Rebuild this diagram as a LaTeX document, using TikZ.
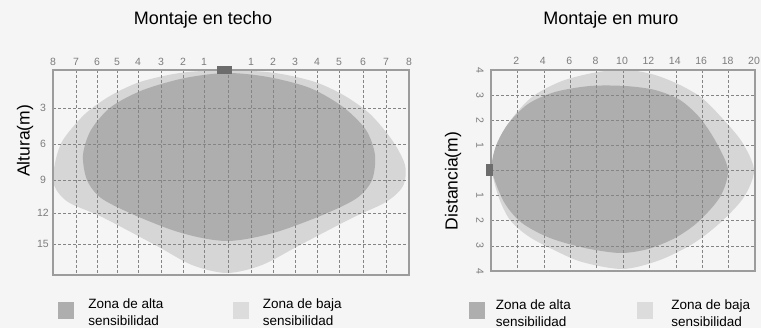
\documentclass[tikz,border=0pt]{standalone}
\usepackage{fontspec}
\setmainfont{Liberation Sans}
\usetikzlibrary{positioning, calc}

\definecolor{bgc}{HTML}{F4F5F4}
\definecolor{alta}{HTML}{AEAEAE}
\definecolor{baja}{HTML}{D6D6D6}
\definecolor{gridc}{HTML}{858585}
\definecolor{framec}{HTML}{9C9C9C}
\definecolor{tickc}{HTML}{7C7C7C}
\definecolor{sensorc}{HTML}{6C6C6C}

\tikzset{
	title/.style={font=\fontsize{18}{20}\selectfont, inner sep=0pt},
	axislabel/.style={font=\fontsize{17.5}{19}\selectfont, rotate=90, inner sep=0pt},
	tick/.style={font=\fontsize{10.5}{12}\selectfont, text=tickc, inner sep=0pt},
	gridline/.style={draw=gridc, densely dashed, line width=0.6pt},
	frame/.style={draw=framec, line width=1.2pt},
	swatch/.style={minimum width=16pt, minimum height=17pt, inner sep=0pt},
	legend/.style={font=\fontsize{13.5}{17}\selectfont, align=left, inner sep=0pt},
}

\begin{document}
\begin{tikzpicture}[x=1pt, y=-1pt]
		\fill[bgc] (0,0) rectangle (761,328);
		\useasboundingbox (0,0) rectangle (761,328);

		% Montaje en techo
		\node[title] (t1) at (203,20) {Montaje en techo};
		\node[axislabel] (ya) at (25,141) {Altura(m)};

		\fill[baja] plot[smooth cycle] coordinates {(227,70) (275,73) (315,82) (345,96) (370,114) (392,140) (405,165) (403,186) (386,202) (352,218) (300,245) (262,265) (227,273) (192,265) (157,246) (102,217) (68,202) (54,185) (55,163) (63,140) (85,114) (110,96) (140,82) (180,73)};
		\fill[alta] plot[smooth cycle] coordinates {(227,73) (268,77) (310,88) (343,107) (366,130) (375,155) (372,180) (357,198) (325,214) (283,230) (252,238) (227,241) (202,238) (172,230) (132,214) (101,198) (87,180) (83,155) (91,130) (111,107) (143,90) (185,78)};

		\foreach \x in {76,97,117,138,161,183,204,228,251,273,295,317,339,363,386}
			\draw[gridline] (\x,70) -- (\x,275);
		\foreach \y in {108,144,180,213,244}
			\draw[gridline] (53,\y) -- (409,\y);
		\draw[frame] (53,70) rectangle (409,275);
		\fill[sensorc] (217,66) rectangle (232,74);

		\foreach \x/\t [count=\i] in {53/8,76/7,97/6,117/5,138/4,161/3,183/2,204/1,251/1,273/2,295/3,317/4,339/5,363/6,386/7,409/8}
			\node[tick] (xa\i) at (\x,62) {\t};
		\foreach \y/\t [count=\i] in {108/3,144/6,180/9,213/12,244/15}
			\node[tick] (ra\i) at (43,\y) {\t};

		\node[swatch, fill=alta] (la1) at (66,310.5) {};
		\node[legend, right=14pt of la1, yshift=-2pt] (lt1) {Zona de alta\\sensibilidad};
		\node[swatch, fill=baja!85!white] (la2) at (240.5,310.5) {};
		\node[legend, right=14pt of la2, yshift=-2pt] (lt2) {Zona de baja\\sensibilidad};

		% Montaje en muro
		\node[title] (t2) at (611,20) {Montaje en muro};
		\node[axislabel] (yb) at (453,181) {Distancia(m)};

		\fill[baja] plot[smooth cycle] coordinates {(492,170) (496,146) (510,121) (532,97) (562,81) (598,72) (628,70) (655,75) (680,85) (702,98) (722,118) (742,142) (754,170) (744,197) (721,222) (694,243) (660,260) (623,269) (582,262) (552,249) (528,236) (510,220) (499,198)};
		\fill[alta] plot[smooth cycle] coordinates {(492,170) (496,146) (508,124) (528,104) (555,92) (590,86) (625,86) (655,90) (680,100) (700,118) (716,142) (728,170) (720,197) (698,222) (675,238) (648,249) (620,253) (585,248) (550,238) (522,223) (504,202)};

		\foreach \k in {1,...,9}
			\draw[gridline] ({491+26.4*\k},70) -- ({491+26.4*\k},271);
		\foreach \k in {1,...,7}
			\draw[gridline] (491,{70+25.125*\k}) -- (755,{70+25.125*\k});
		\draw[frame] (491,70) rectangle (755,271);
		\fill[sensorc] (486,164) rectangle (493,176);

		\foreach \k in {1,...,10}
			\node[tick] (xb\k) at ({491+26.4*\k-1},61) {\pgfmathparse{int(2*\k)}\pgfmathresult};
		\foreach \k/\t in {0/4,1/3,2/2,3/1,5/1,6/2,7/3,8/4}
			\node[tick, rotate=-90] (rb\k) at (480,{70+25.125*\k}) {\t};

		\node[swatch, fill=alta] (lb1) at (476.5,311) {};
		\node[legend, right=11pt of lb1, yshift=-2pt] (lt3) {Zona de alta\\sensibilidad};
		\node[swatch, fill=baja!85!white] (lb2) at (645,311) {};
		\node[legend, right=18pt of lb2, yshift=-2pt] (lt4) {Zona de baja\\sensibilidad};
\end{tikzpicture}
\end{document}
